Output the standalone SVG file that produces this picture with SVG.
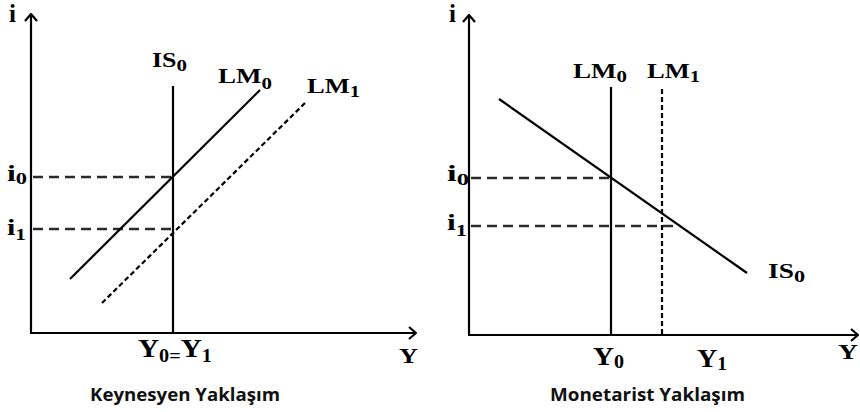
<svg xmlns="http://www.w3.org/2000/svg" width="860" height="412" viewBox="0 0 860 412">
<defs>
<style>
.ax{stroke:#000;stroke-width:2.2;fill:none}
.cv{stroke:#000;stroke-width:2.2;fill:none}
.dc{stroke:#000;stroke-width:2.2;fill:none;stroke-dasharray:5,3}
.gd{stroke:#2a2a2a;stroke-width:2.4;fill:none;stroke-dasharray:10,6}
.lb{font-family:"Liberation Serif","Times New Roman",serif;font-weight:bold;fill:#000}
.cap{font-family:"Open Sans","DejaVu Sans",sans-serif;font-weight:700;font-size:17px;fill:#111}
</style>
<marker id="arr" viewBox="0 0 10 14" refX="9" refY="7" markerWidth="10" markerHeight="14" markerUnits="userSpaceOnUse" orient="auto">
<path d="M2,1 L9,7 L2,13" fill="none" stroke="#000" stroke-width="2.2"/>
</marker>
</defs>
<rect width="860" height="412" fill="#fff"/>

<g id="keynes">
<g id="k-axes">
<line class="ax" x1="31" y1="333" x2="31" y2="14" marker-end="url(#arr)"/>
<line class="ax" x1="30" y1="333" x2="416" y2="333" marker-end="url(#arr)"/>
<text class="lb" x="9" y="22" font-size="25">i</text>
<text class="lb" x="399" y="363" font-size="21" textLength="19" lengthAdjust="spacingAndGlyphs">Y</text>
</g>
<g id="k-guides">
<line class="gd" x1="33" y1="177" x2="173" y2="177"/>
<line class="gd" x1="33" y1="229" x2="173" y2="229"/>
<text class="lb" x="7" y="181" font-size="24" textLength="20" lengthAdjust="spacingAndGlyphs">i<tspan dy="3" font-size="17">0</tspan></text>
<text class="lb" x="7" y="235" font-size="24" textLength="19" lengthAdjust="spacingAndGlyphs">i<tspan dy="5" font-size="17">1</tspan></text>
</g>
<g id="k-IS0">
<line class="cv" x1="173" y1="86" x2="173" y2="333"/>
<text class="lb" x="152" y="67" font-size="21" textLength="35" lengthAdjust="spacingAndGlyphs">IS<tspan dy="4" font-size="17">0</tspan></text>
</g>
<g id="k-LM0">
<line class="cv" x1="260" y1="90" x2="70" y2="279"/>
<text class="lb" x="218" y="83" font-size="22" textLength="54" lengthAdjust="spacingAndGlyphs">LM<tspan dy="6" font-size="17">0</tspan></text>
</g>
<g id="k-LM1">
<line class="dc" x1="305" y1="103" x2="102" y2="303"/>
<text class="lb" x="307" y="93" font-size="22" textLength="53" lengthAdjust="spacingAndGlyphs">LM<tspan dy="4" font-size="17">1</tspan></text>
</g>
<g id="k-Y">
<text class="lb" x="138" y="357" font-size="26" textLength="74" lengthAdjust="spacingAndGlyphs">Y<tspan dy="5" font-size="18">0=</tspan><tspan dy="-5">Y</tspan><tspan dy="5" font-size="18">1</tspan></text>
</g>
<text class="cap" x="90" y="401" textLength="190" lengthAdjust="spacingAndGlyphs">Keynesyen Yaklaşım</text>
</g>

<g id="monet">
<g id="m-axes">
<line class="ax" x1="469" y1="335" x2="469" y2="15" marker-end="url(#arr)"/>
<line class="ax" x1="468" y1="335" x2="858" y2="335" marker-end="url(#arr)"/>
<text class="lb" x="449" y="22" font-size="25">i</text>
<text class="lb" x="838" y="359" font-size="21" textLength="20" lengthAdjust="spacingAndGlyphs">Y</text>
</g>
<g id="m-guides">
<line class="gd" x1="471" y1="178" x2="611" y2="178"/>
<line class="gd" x1="471" y1="226" x2="675" y2="226"/>
<text class="lb" x="447" y="181" font-size="24" textLength="22" lengthAdjust="spacingAndGlyphs">i<tspan dy="4" font-size="17">0</tspan></text>
<text class="lb" x="447" y="230" font-size="24" textLength="20" lengthAdjust="spacingAndGlyphs">i<tspan dy="6" font-size="17">1</tspan></text>
</g>
<g id="m-LM0">
<line class="cv" x1="611" y1="87" x2="611" y2="335"/>
<text class="lb" x="573" y="78" font-size="22" textLength="54" lengthAdjust="spacingAndGlyphs">LM<tspan dy="4" font-size="17">0</tspan></text>
</g>
<g id="m-LM1">
<line class="dc" x1="662" y1="89" x2="662" y2="335"/>
<text class="lb" x="647" y="78" font-size="22" textLength="53" lengthAdjust="spacingAndGlyphs">LM<tspan dy="4" font-size="17">1</tspan></text>
</g>
<g id="m-IS0">
<line class="cv" x1="499" y1="99" x2="747" y2="273"/>
<text class="lb" x="768" y="278" font-size="21" textLength="37" lengthAdjust="spacingAndGlyphs">IS<tspan dy="4" font-size="17">0</tspan></text>
</g>
<g id="m-Y">
<text class="lb" x="593" y="365" font-size="26" textLength="31" lengthAdjust="spacingAndGlyphs">Y<tspan dy="3" font-size="18">0</tspan></text>
<text class="lb" x="697" y="367" font-size="26" textLength="30" lengthAdjust="spacingAndGlyphs">Y<tspan dy="3" font-size="18">1</tspan></text>
</g>
<text class="cap" x="550" y="401" textLength="195" lengthAdjust="spacingAndGlyphs">Monetarist Yaklaşım</text>
</g>
</svg>
